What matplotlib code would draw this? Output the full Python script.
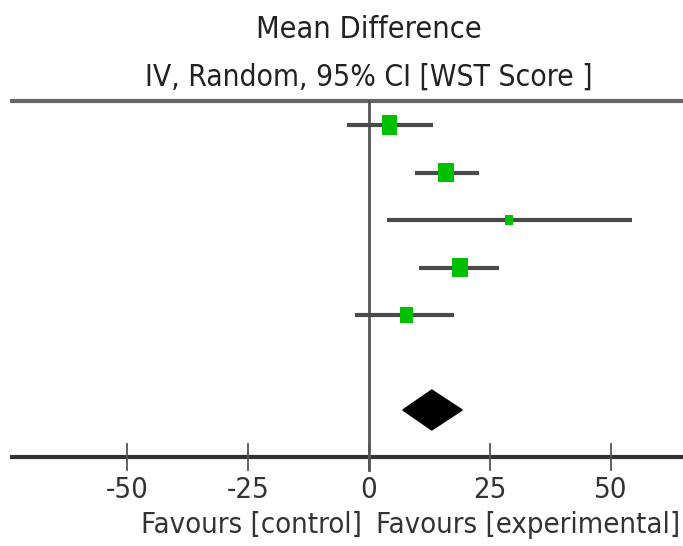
import numpy as np
import matplotlib.pyplot as plt
from matplotlib.patches import Rectangle, Polygon

# данные исследований (mean difference, 95% CI)
mean_diff = [4.3, 15.9, 29.0, 18.8, 7.7]
ci_low = [-4.6, 9.5, 3.7, 10.4, -2.9]
ci_high = [13.3, 22.8, 54.4, 26.9, 17.6]
weight = [24.8, 24.8, 7.0, 24.8, 18.6]

# итоговый ромб
total_mean = 13.0
total_low = 7.0
total_high = 19.3

ticks = [-50, -25, 0, 25, 50]
tick_labels = ["-50", "-25", "0", "25", "50"]

title_1 = "Mean Difference"
title_2 = "IV, Random, 95% CI [WST Score ]"
left_label = "Favours [control]"
right_label = "Favours [experimental]"

W, H = 683, 546
px_x = 4.83    # пикселей на единицу по x
px_y = 47.5    # пикселей на строку

fig = plt.figure(figsize=(W / 100, H / 100), dpi=100)
ax = fig.add_axes([0, 0, 1, 1])
ax.set_xlim(-369 / px_x, (W - 369) / px_x)
ax.set_ylim((H - 125) / px_y + 1, (0 - 125) / px_y + 1)
ax.axis('off')

font = dict(family='DejaVu Sans', fontstretch='condensed')

y_top = (101 - 125) / px_y + 1
y_axis = (457 - 125) / px_y + 1
x_left = (10 - 369) / px_x
x_right = (W - 369) / px_x

# линии рамки
ax.plot([x_left, x_right], [y_top, y_top], color='#666666', lw=3, solid_capstyle='butt')
ax.plot([x_left, x_right], [y_axis, y_axis], color='#333333', lw=3, solid_capstyle='butt')
ax.plot([0, 0], [y_top, y_axis + 13 / px_y], color='#555555', lw=2)

for t, lab in zip(ticks, tick_labels):
    ax.plot([t, t], [y_axis - 13 / px_y, y_axis + 13 / px_y], color='#555555', lw=1.3)
    ax.text(t, y_axis + 33 / px_y, lab, ha='center', va='center', fontsize=21,
            color='#333333', **font)

# исследования
for i in range(len(mean_diff)):
    y = i + 1
    ax.plot([ci_low[i], ci_high[i]], [y, y], color='#4a4a4a', lw=3, solid_capstyle='butt')
    side = 3.1 * np.sqrt(weight[i])
    w = side / px_x
    h = side * 1.25 / px_y
    ax.add_patch(Rectangle((mean_diff[i] - w / 2, y - h / 2), w, h,
                           facecolor='#00c000', edgecolor='none', zorder=3))

# ромб
yd = 7
hd = 20 / px_y
ax.add_patch(Polygon([[total_low, yd], [total_mean, yd - hd],
                      [total_high, yd], [total_mean, yd + hd]],
                     closed=True, facecolor='black', edgecolor='black', zorder=3))

# подписи
ax.text(0, (30 - 125) / px_y + 1, title_1, ha='center', va='center', fontsize=22,
        color='#222222', **font)
ax.text(0, (77 - 125) / px_y + 1, title_2, ha='center', va='center', fontsize=21.5,
        color='#222222', **font)
ax.text(-7 / px_x, (525 - 125) / px_y + 1, left_label, ha='right', va='center',
        fontsize=21, color='#333333', **font)
ax.text(7 / px_x, (525 - 125) / px_y + 1, right_label, ha='left', va='center',
        fontsize=21, color='#333333', **font)

fig.savefig('out.png', dpi=100)
